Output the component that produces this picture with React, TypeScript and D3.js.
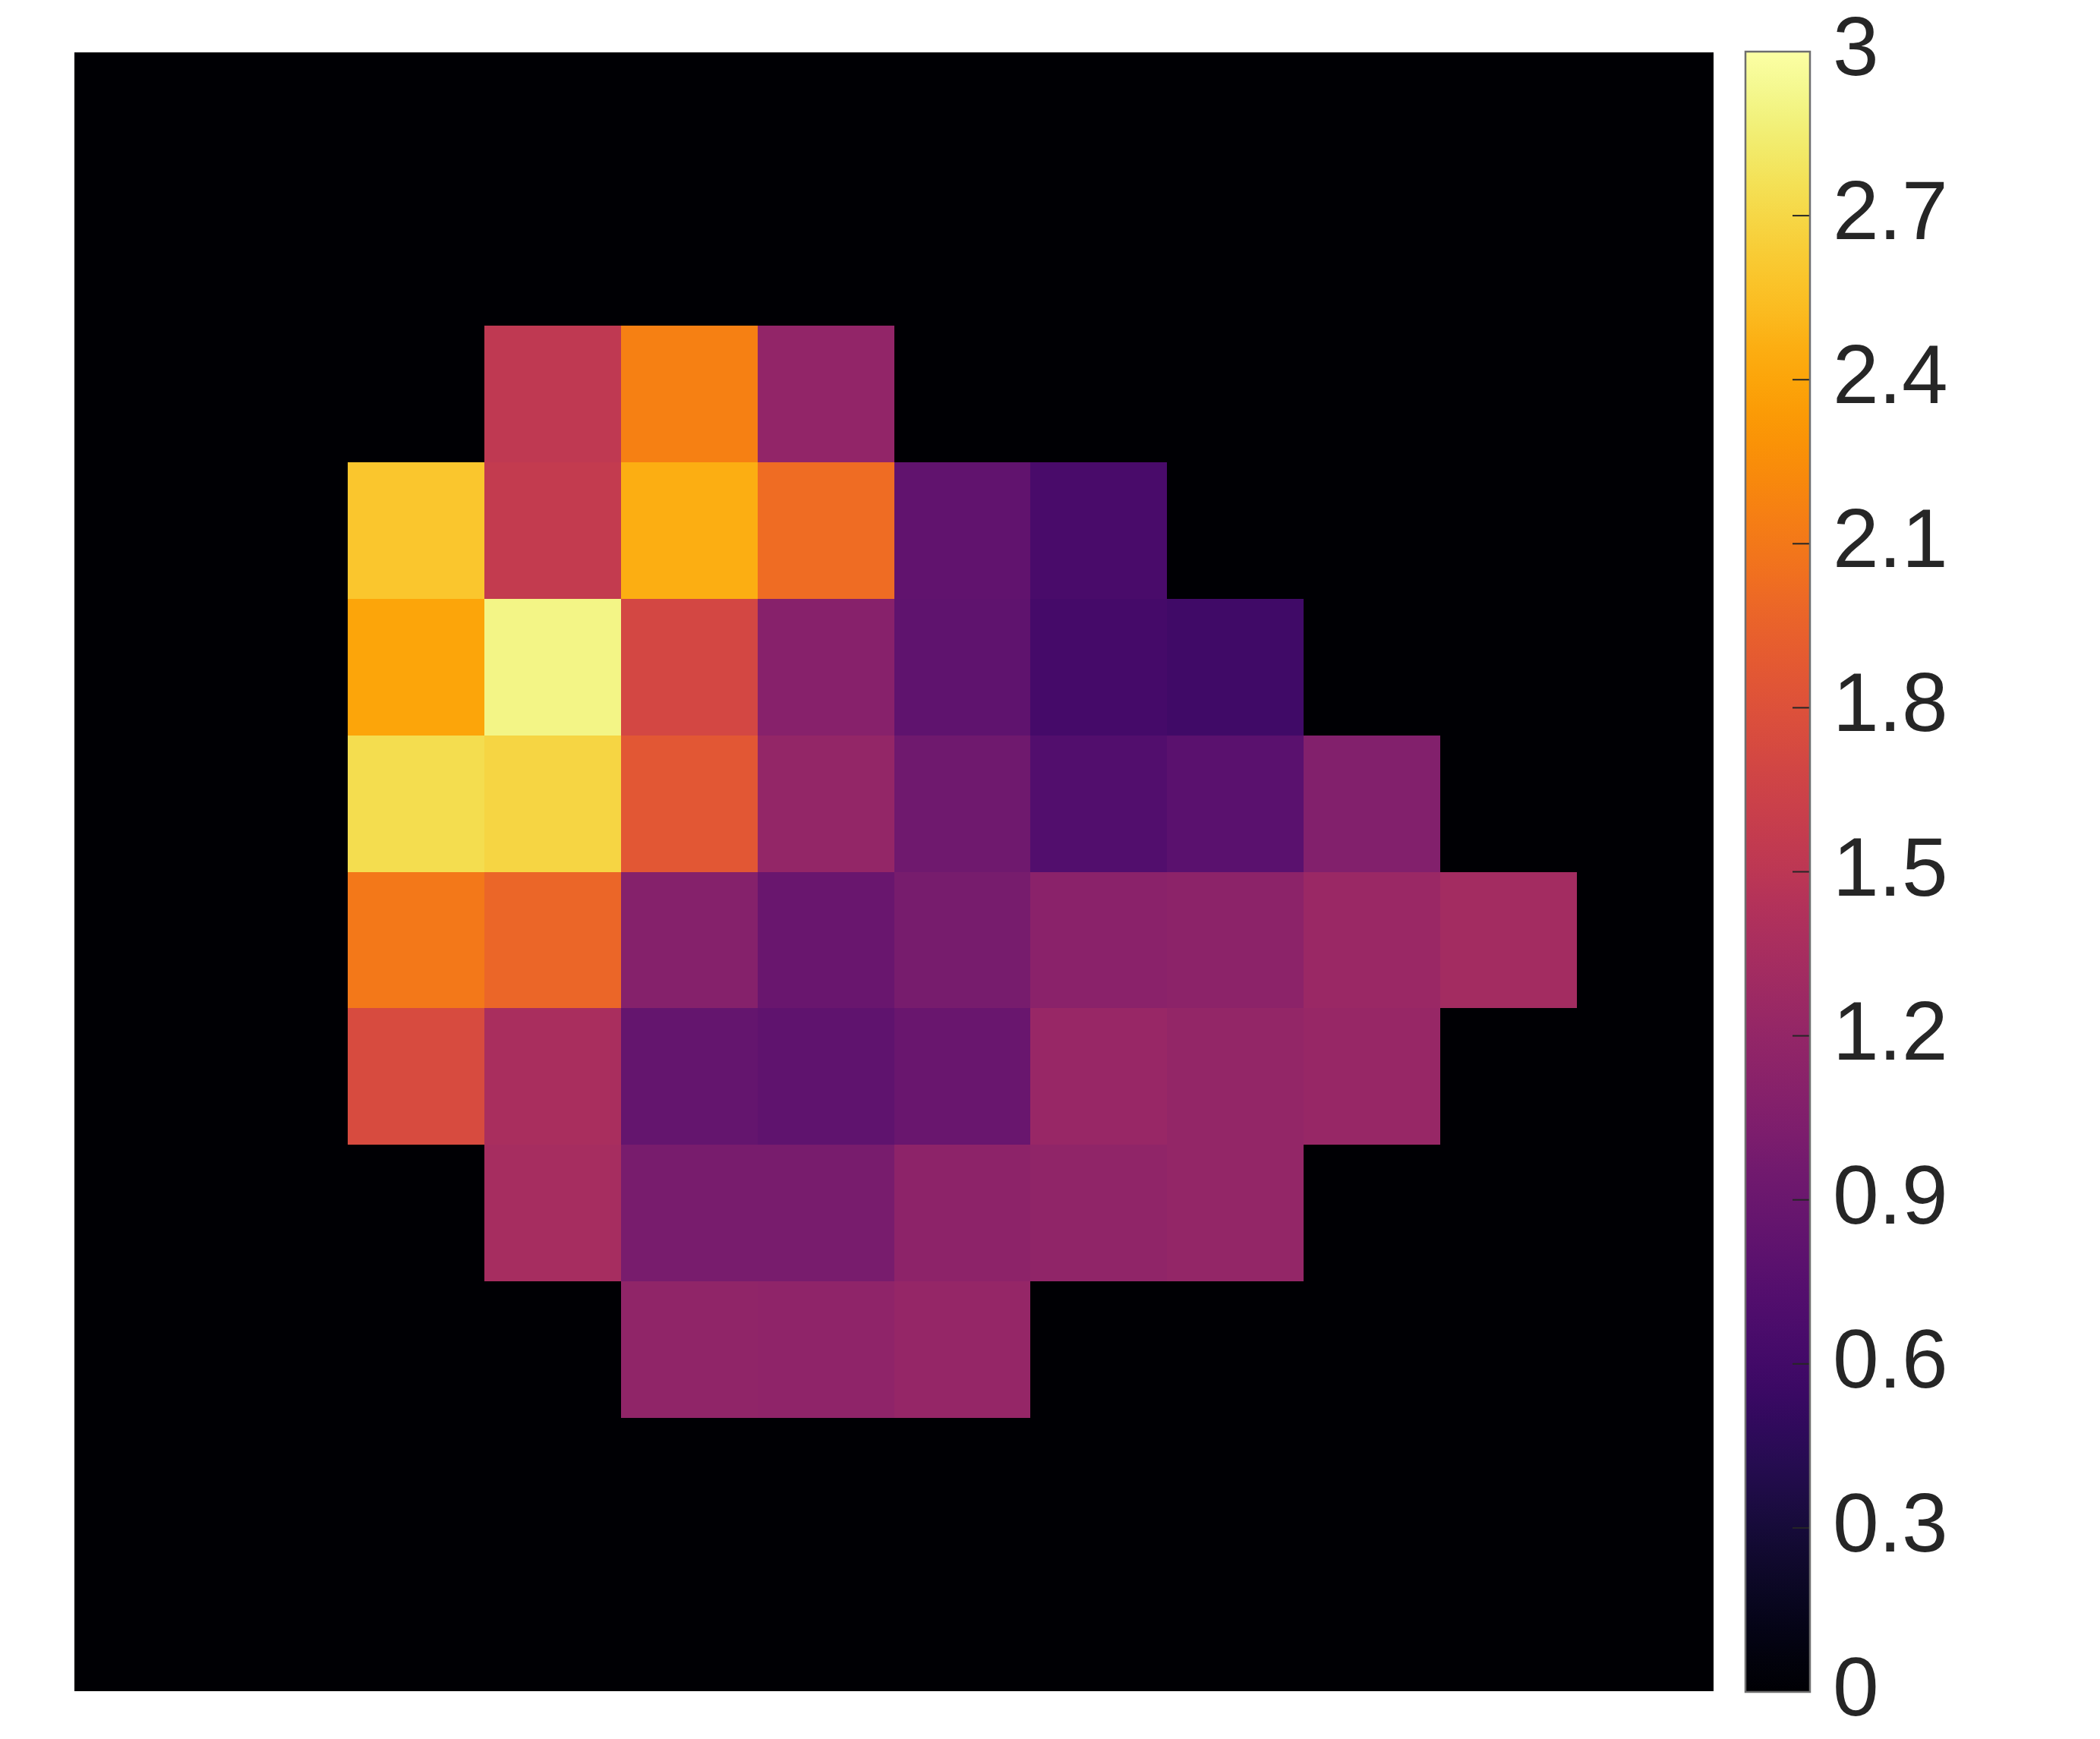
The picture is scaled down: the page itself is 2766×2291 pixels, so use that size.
import React, { useEffect, useRef } from 'react'
import * as d3 from 'd3'

// 12 x 12 grid, row 0 at top; zeros are the black background cells
const row0 = [0, 0, 0, 0, 0, 0, 0, 0, 0, 0, 0, 0]
const row1 = [0, 0, 0, 0, 0, 0, 0, 0, 0, 0, 0, 0]
const row2 = [0, 0, 0, 1.53, 2.16, 1.19, 0, 0, 0, 0, 0, 0]
const row3 = [0, 0, 2.6, 1.57, 2.46, 2.02, 0.83, 0.65, 0, 0, 0, 0]
const row4 = [0, 0, 2.4, 2.9, 1.71, 1.11, 0.81, 0.63, 0.59, 0, 0, 0]
const row5 = [0, 0, 2.74, 2.69, 1.86, 1.2, 0.93, 0.72, 0.78, 1.07, 0, 0]
const row6 = [0, 0, 2.1, 1.98, 1.1, 0.89, 0.99, 1.13, 1.14, 1.25, 1.32, 0]
const row7 = [0, 0, 1.74, 1.37, 0.85, 0.82, 0.88, 1.24, 1.2, 1.23, 0, 0]
const row8 = [0, 0, 0, 1.34, 1.0, 1.0, 1.15, 1.18, 1.2, 0, 0, 0]
const row9 = [0, 0, 0, 0, 1.18, 1.17, 1.21, 0, 0, 0, 0, 0]
const row10 = [0, 0, 0, 0, 0, 0, 0, 0, 0, 0, 0, 0]
const row11 = [0, 0, 0, 0, 0, 0, 0, 0, 0, 0, 0, 0]
const rows = [row0, row1, row2, row3, row4, row5, row6, row7, row8, row9, row10, row11]

const colorTicks = [0, 0.3, 0.6, 0.9, 1.2, 1.5, 1.8, 2.1, 2.4, 2.7, 3]

const App = () => {
  const ref = useRef<SVGSVGElement>(null)

  useEffect(() => {
    document.body.style.margin = '0'
    const svg = d3.select(ref.current)
    svg.selectAll('*').remove()

    const left = 98, right = 2257, top = 69, bottom = 2228
    const idx = d3.range(12)
    const x = d3.scaleBand<number>().domain(idx).range([left, right])
    const y = d3.scaleBand<number>().domain(idx).range([top, bottom])
    const color = d3.scaleSequential(d3.interpolateInferno).domain([0, 3])

    svg.append('rect')
      .attr('x', left).attr('y', top)
      .attr('width', right - left).attr('height', bottom - top)
      .attr('fill', color(0))
      .attr('shape-rendering', 'crispEdges')

    const cells = rows.flatMap((r, i) => r.map((v, j) => ({ i, j, v }))).filter((d) => d.v > 0)
    svg.append('g')
      .attr('shape-rendering', 'crispEdges')
      .selectAll('rect')
      .data(cells)
      .enter()
      .append('rect')
      .attr('x', (d) => Math.round(x(d.j)!))
      .attr('y', (d) => Math.round(y(d.i)!))
      .attr('width', (d) => Math.round(x(d.j)! + x.bandwidth()) - Math.round(x(d.j)!))
      .attr('height', (d) => Math.round(y(d.i)! + y.bandwidth()) - Math.round(y(d.i)!))
      .attr('fill', (d) => color(d.v))

    // colorbar
    const cbX = 2299, cbW = 85
    const cy = d3.scaleLinear().domain([0, 3]).range([2229, 68])
    const grad = svg.append('defs').append('linearGradient')
      .attr('id', 'cb')
      .attr('x1', 0).attr('y1', 1).attr('x2', 0).attr('y2', 0)
    d3.range(0, 1.0001, 0.02).forEach((t) => {
      grad.append('stop').attr('offset', t).attr('stop-color', d3.interpolateInferno(t))
    })
    svg.append('rect')
      .attr('x', cbX).attr('y', cy(3))
      .attr('width', cbW).attr('height', cy(0) - cy(3))
      .attr('fill', 'url(#cb)')

    const g = svg.append('g')
    g.selectAll('line')
      .data(colorTicks)
      .enter()
      .append('line')
      .attr('x1', cbX + cbW - 23).attr('x2', cbX + cbW)
      .attr('y1', (d) => cy(d)).attr('y2', (d) => cy(d))
      .attr('stroke', '#262626').attr('stroke-width', 2)
    g.selectAll('text')
      .data(colorTicks)
      .enter()
      .append('text')
      .attr('x', 2414)
      .attr('y', (d) => cy(d) + 31)
      .attr('font-family', '"Liberation Sans", Arial, sans-serif')
      .attr('font-size', 109)
      .attr('fill', '#262626')
      .text((d) => String(d))

    svg.append('rect')
      .attr('x', cbX).attr('y', cy(3))
      .attr('width', cbW).attr('height', cy(0) - cy(3))
      .attr('fill', 'none')
      .attr('stroke', '#6e6e6e').attr('stroke-width', 2.5)
  }, [])

  return (
    <svg ref={ref} width={2766} height={2291} style={{ display: 'block', background: '#fff' }}></svg>
  )
}

export default App
